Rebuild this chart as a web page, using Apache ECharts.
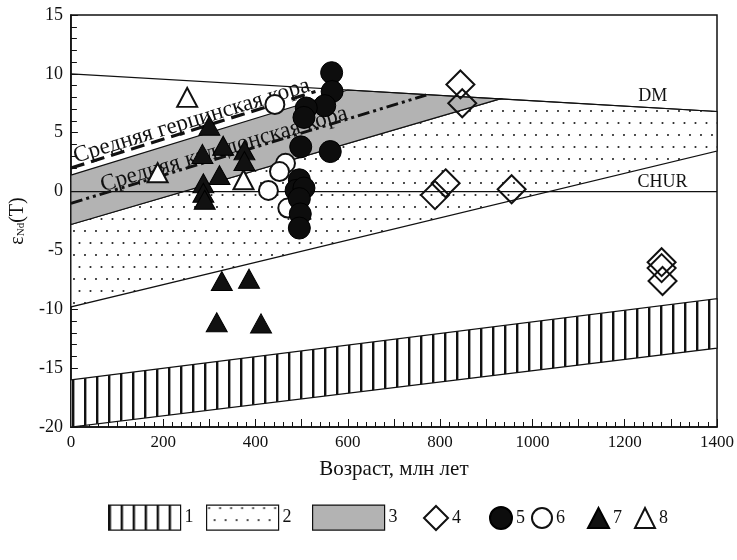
<!DOCTYPE html>
<html><head><meta charset="utf-8">
<script src="https://cdn.jsdelivr.net/npm/echarts@6/dist/echarts.min.js"></script>
<style>html,body{margin:0;padding:0;background:#fff}#c{width:737px;height:560px}</style>
</head><body><div id="c"></div>
<script>
// ---------- data ----------
const xRange = [0, 1400];
const yRange = [-20, 15];
// reference curves [age, eps]
const dmLine = [[0, 10], [1400, 6.8]];
const churLine = [[0, 0], [1400, 0]];
const grayTop = [[0, 1.4], [600, 8.63]];
const grayBottom = [[0, -2.8], [930, 7.87]];
const dottedBottom = [[0, -9.8], [1400, 3.45]];
const hatchTop = [[0, -16], [1400, -9.1]];
const hatchBottom = [[0, -20], [1400, -13.3]];
const hercynianCrust = [[0, 2.0], [530, 8.5]];
const caledonianCrust = [[0, -1.0], [770, 8.2]];
// samples
const diamonds4 = [[844, 9.1], [848, 7.5], [812, 0.7], [789, -0.3], [955, 0.2], [1280, -6.0], [1280, -6.5], [1282, -7.6]];
const blackCircles5 = [[565, 10.1], [566, 8.5], [550, 7.3], [510, 7.1], [505, 6.3], [498, 3.8], [562, 3.4], [495, 1.0], [488, 0.1], [505, 0.3], [495, -0.6], [497, -1.9], [495, -3.1]];
const openCircles6 = [[442, 7.4], [465, 2.4], [452, 1.7], [428, 0.1], [470, -1.4]];
const blackTriangles7 = [[300, 5.6], [330, 3.9], [285, 3.2], [376, 3.5], [376, 2.6], [322, 1.4], [287, 0.7], [287, -0.1], [290, -0.7], [327, -7.6], [386, -7.4], [316, -11.1], [412, -11.2]];
const openTriangles8 = [[252, 8.0], [188, 1.6], [374, 1.0]];
const legendNames = ['1', '2', '3', '4', '5', '6', '7', '8'];
const crustLabelText = ['Средняя герцинская кора', 'Средняя каледонская кора'];
const curveLabelText = ['DM', 'CHUR'];

// ---------- styling / layout ----------
const SERIF = '"Liberation Serif", "DejaVu Serif", serif';
const crustLabelAnchor = [[262, 6.0, 17], [332, 3.6, 16.5]];
const curveLabelAnchor = [[1261, 8.1], [1282, 0.75]];

function makePattern(kind) {
  const c = document.createElement('canvas');
  const ctx = c.getContext('2d');
  if (kind === 'hatch') {
    c.width = 12; c.height = 12;
    ctx.fillStyle = '#fff'; ctx.fillRect(0, 0, 12, 12);
    ctx.fillStyle = '#111'; ctx.fillRect(0, 0, 2.4, 12);
  } else {
    c.width = 11; c.height = 24;
    ctx.fillStyle = '#fff'; ctx.fillRect(0, 0, 11, 24);
    ctx.fillStyle = '#222';
    ctx.beginPath(); ctx.arc(2.5, 3, 1.05, 0, Math.PI * 2); ctx.fill();
    ctx.beginPath(); ctx.arc(8, 15, 1.05, 0, Math.PI * 2); ctx.fill();
  }
  return { image: c, repeat: 'repeat' };
}
const hatchFill = makePattern('hatch');
const dotFill = makePattern('dots');
const grayFill = '#b3b3b3';

const grayPoly = [grayTop[0], grayTop[1], grayBottom[1], grayBottom[0]];
const dottedPoly = [grayBottom[0], grayBottom[1], dmLine[1], dottedBottom[1], dottedBottom[0]];
const hatchPoly = [hatchTop[0], hatchTop[1], hatchBottom[1], hatchBottom[0]];

function polySeries(name, pts, fill, z) {
  return {
    type: 'custom', name: name, z: z, data: pts, silent: true,
    itemStyle: { color: fill },
    renderItem: function (params, api) {
      if (params.dataIndex !== 0) return null;
      const points = pts.map(p => api.coord(p));
      return {
        type: 'polygon', shape: { points: points },
        style: { fill: fill, stroke: '#111', lineWidth: 1.2 }
      };
    }
  };
}
function lineSeries(data, style, z) {
  return {
    type: 'line', data: data, symbol: 'none', z: z, silent: true,
    lineStyle: Object.assign({ color: '#111', width: 1.2 }, style)
  };
}
function textSeries(anchors, texts, size) {
  return {
    type: 'scatter', z: 4, silent: true, symbolSize: 1,
    itemStyle: { color: 'rgba(0,0,0,0)', opacity: 1 },
    data: anchors.map(a => ({ value: [a[0], a[1]], label: { rotate: a[2] || 0 } })),
    label: {
      show: true, position: 'inside', color: '#111', fontFamily: SERIF, fontSize: size,
      formatter: p => texts[p.dataIndex]
    }
  };
}

const series = [
  polySeries('1', hatchPoly, hatchFill, 1),
  polySeries('2', dottedPoly, dotFill, 1),
  polySeries('3', grayPoly, grayFill, 1),
  lineSeries(dmLine, {}, 2),
  lineSeries(churLine, {}, 2),
  lineSeries(hercynianCrust, { width: 3.2, type: [14, 7] }, 3),
  lineSeries(caledonianCrust, { width: 3, type: [12, 4, 3, 4, 3, 4] }, 3),
  textSeries(crustLabelAnchor, crustLabelText, 23),
  textSeries(curveLabelAnchor, curveLabelText, 18),
  { type: 'scatter', name: '4', z: 6, data: diamonds4, symbol: 'diamond', symbolSize: 28,
    itemStyle: { color: 'rgba(255,255,255,0)', borderColor: '#111', borderWidth: 2, opacity: 1 } },
  { type: 'scatter', name: '6', z: 6, data: openCircles6, symbol: 'circle', symbolSize: 19,
    itemStyle: { color: '#fff', borderColor: '#111', borderWidth: 2, opacity: 1 } },
  { type: 'scatter', name: '8', z: 6, data: openTriangles8, symbol: 'triangle', symbolSize: [20, 19],
    itemStyle: { color: '#fff', borderColor: '#111', borderWidth: 2, opacity: 1 } },
  { type: 'scatter', name: '5', z: 7, data: blackCircles5, symbol: 'circle', symbolSize: 22,
    itemStyle: { color: '#0d0d0d', borderColor: '#000', borderWidth: 1, opacity: 1 } },
  { type: 'scatter', name: '7', z: 7, data: blackTriangles7, symbol: 'triangle', symbolSize: [21, 19],
    itemStyle: { color: '#111', borderColor: '#000', borderWidth: 1, opacity: 1 } }
];

// legend: one component per entry so that spacing matches
const legendLayout = {
  '1': { left: 108, w: 72, h: 25, icon: 'rect', style: { color: hatchFill, borderColor: '#111', borderWidth: 1.2 } },
  '2': { left: 206, w: 72, h: 25, icon: 'rect', style: { color: dotFill, borderColor: '#111', borderWidth: 1.2 } },
  '3': { left: 312, w: 72, h: 25, icon: 'rect', style: { color: grayFill, borderColor: '#111', borderWidth: 1.2 } },
  '4': { left: 423, w: 24, h: 24 },
  '5': { left: 489, w: 22, h: 22 },
  '6': { left: 531, w: 20, h: 20 },
  '7': { left: 587, w: 21, h: 20 },
  '8': { left: 634, w: 20, h: 20 }
};
const legends = legendNames.map(n => {
  const L = legendLayout[n];
  const item = { name: n };
  if (L.icon) { item.icon = L.icon; item.itemStyle = L.style; }
  return {
    left: L.left, top: 517 - L.h / 2, padding: 0, itemWidth: L.w, itemHeight: L.h, itemGap: 0,
    selectedMode: false, data: [item],
    textStyle: { fontFamily: SERIF, fontSize: 18, color: '#111', padding: [4, 0, 0, -1] }
  };
});

const option = {
  animation: false,
  backgroundColor: '#fff',
  legend: legends,
  grid: { left: 70, right: 12, top: 15, bottom: 133, show: true, borderColor: '#111', borderWidth: 1.5, backgroundColor: 'rgba(0,0,0,0)' },
  xAxis: {
    type: 'value', min: xRange[0], max: xRange[1], interval: 100,
    name: 'Возраст, млн лет', nameLocation: 'middle', nameGap: 32,
    nameTextStyle: { fontFamily: SERIF, fontSize: 21, color: '#111' },
    axisLine: { onZero: false, lineStyle: { color: '#111', width: 1.5 } },
    axisTick: { inside: true, length: 8, lineStyle: { color: '#111', width: 1 } },
    minorTick: { show: true, splitNumber: 5, length: 5, lineStyle: { color: '#111', width: 1 } },
    splitLine: { show: false },
    axisLabel: { fontFamily: SERIF, fontSize: 17, color: '#111', margin: 7,
      formatter: v => (v % 200 === 0 ? String(v) : '') }
  },
  yAxis: {
    type: 'value', min: yRange[0], max: yRange[1], interval: 5,
    name: '{e|ε}{s|Nd}{e|(T)}', nameLocation: 'middle', nameGap: 23, nameRotate: 90,
    nameTextStyle: { rich: {
      e: { fontFamily: SERIF, fontSize: 20, color: '#111' },
      s: { fontFamily: SERIF, fontSize: 11, color: '#111', padding: [7, 0, 0, 0] }
    } },
    axisLine: { onZero: false, lineStyle: { color: '#111', width: 1.5 } },
    axisTick: { inside: true, length: 7, lineStyle: { color: '#111', width: 1 } },
    minorTick: { show: true, splitNumber: 5, length: 6, lineStyle: { color: '#111', width: 1 } },
    splitLine: { show: false },
    axisLabel: { fontFamily: SERIF, fontSize: 18, color: '#111', margin: 8 }
  },
  series: series
};
const chart = echarts.init(document.getElementById('c'), null, { renderer: 'canvas' });
chart.setOption(option);
</script></body></html>
